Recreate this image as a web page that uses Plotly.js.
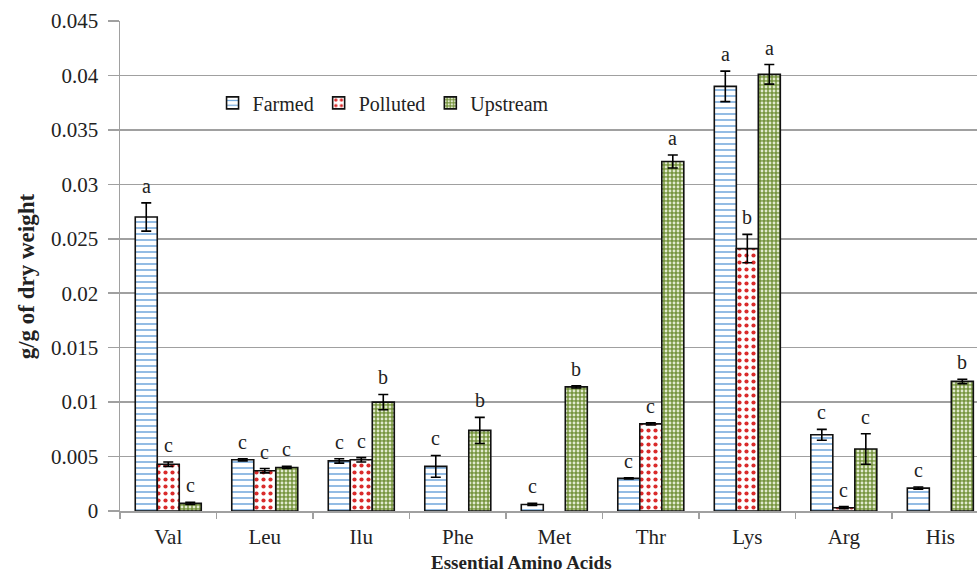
<!DOCTYPE html>
<html>
<head>
<meta charset="utf-8">
<script src="https://cdn.plot.ly/plotly-3.0.1.min.js"></script>
<style>
  html, body { margin: 0; padding: 0; background: #ffffff; }
  #chart { width: 977px; height: 575px; }
</style>
</head>
<body>
<div id="chart"></div>
<script>
// ---- data ----
const categories = ['Val', 'Leu', 'Ilu', 'Phe', 'Met', 'Thr', 'Lys', 'Arg', 'His'];

const farmed      = [0.0270, 0.0047, 0.0046, 0.0041, 0.0006, 0.0030, 0.0390, 0.0070, 0.0021];
const farmedErr   = [0.0013, 0.0001, 0.0002, 0.0010, 0.0001, 0.00005, 0.0014, 0.0005, 0.0001];
const polluted    = [0.0043, 0.0037, 0.0047, null, null, 0.0080, 0.0241, 0.0003, null];
const pollutedErr = [0.0002, 0.0002, 0.0002, null, null, 0.0001, 0.0013, 0.0001, null];
const upstream    = [0.0007, 0.0040, 0.0100, 0.0074, 0.0114, 0.0321, 0.0401, 0.0057, 0.0119];
const upstreamErr = [0.0001, 0.0001, 0.0007, 0.0012, 0.0001, 0.0006, 0.0009, 0.0014, 0.0002];

const farmedLetters   = ['a', 'c', 'c', 'c', 'c', 'c', 'a', 'c', 'c'];
const pollutedLetters = ['c', 'c', 'c', '', '', 'c', 'b', 'c', ''];
const upstreamLetters = ['c', 'c', 'b', 'b', 'b', 'a', 'a', 'c', 'b'];

const yTickVals  = [0, 0.005, 0.01, 0.015, 0.02, 0.025, 0.03, 0.035, 0.04, 0.045];
const yTickTexts = ['0', '0.005', '0.01', '0.015', '0.02', '0.025', '0.03', '0.035', '0.04', '0.045'];

const xTitle = 'Essential Amino Acids';
const yTitle = 'g/g of dry weight';

// ---- styling ----
const serif = 'Liberation Serif';
const txt = '#222222';
const errStyle = (arr) => ({ type: 'data', array: arr, visible: true, color: '#000', thickness: 1.6, width: 5 });
const outline = { color: '#111', width: 1.6 };

const series = [
  { name: 'Farmed', y: farmed, err: farmedErr, letters: farmedLetters,
    pattern: { shape: '-', fgcolor: '#6fa6dc', bgcolor: '#ffffff', size: 6, solidity: 0.25 } },
  { name: 'Polluted', y: polluted, err: pollutedErr, letters: pollutedLetters,
    pattern: { shape: '.', fgcolor: '#d92b2b', bgcolor: '#ffffff', size: 7, solidity: 0.28 } },
  { name: 'Upstream', y: upstream, err: upstreamErr, letters: upstreamLetters,
    pattern: { shape: '.', fgcolor: '#e2eacf', bgcolor: '#77953f', size: 4, solidity: 0.4 } }
];

const traces = series.map(s => ({
  type: 'bar',
  name: s.name,
  x: categories,
  y: s.y,
  error_y: errStyle(s.err),
  marker: { color: s.pattern.bgcolor, line: outline, pattern: s.pattern },
  hoverinfo: 'x+y+name'
}));

const barShift = [-22, 0, 22];
const annotations = [];
series.forEach((s, si) => {
  categories.forEach((c, ci) => {
    if (!s.letters[ci] || s.y[ci] == null) return;
    annotations.push({
      x: c, y: s.y[ci] + (s.err[ci] || 0), xref: 'x', yref: 'y',
      text: s.letters[ci], showarrow: false,
      xshift: barShift[si], yshift: 17, yanchor: 'middle',
      font: { family: serif, size: 20, color: txt }
    });
  });
});

// axis titles as annotations for exact placement
annotations.push({
  xref: 'paper', yref: 'paper', x: 0.469, y: -0.106, xanchor: 'center', yanchor: 'middle',
  text: '<b>' + xTitle + '</b>', showarrow: false,
  font: { family: serif, size: 19, color: txt }
});
annotations.push({
  xref: 'paper', yref: 'paper', x: -0.109, y: 0.478, xanchor: 'center', yanchor: 'middle',
  text: '<b>' + yTitle + '</b>', showarrow: false, textangle: -90,
  font: { family: serif, size: 23, color: txt }
});

const layout = {
  width: 977, height: 575,
  margin: { l: 120, r: 0, t: 21, b: 64 },
  paper_bgcolor: '#ffffff', plot_bgcolor: '#ffffff',
  barmode: 'group', bargap: 0.316, bargroupgap: 0,
  font: { family: serif, size: 20, color: txt },
  showlegend: true,
  legend: {
    orientation: 'h', x: 0.108, y: 0.833, xanchor: 'left', yanchor: 'middle',
    font: { family: serif, size: 20, color: txt },
    bgcolor: 'rgba(0,0,0,0)', itemwidth: 30, traceorder: 'normal'
  },
  xaxis: {
    type: 'category', range: [-0.5, 8.38],
    showgrid: false, showline: true, linecolor: '#a0a0a0', linewidth: 1.5,
    ticks: 'outside', tickson: 'boundaries', ticklen: 6, tickcolor: '#a0a0a0', tickwidth: 1.5,
    ticklabelstandoff: 6,
    tickfont: { family: serif, size: 21, color: txt },
    zeroline: false, fixedrange: true
  },
  yaxis: {
    range: [0, 0.045], tickvals: yTickVals, ticktext: yTickTexts,
    showgrid: true, gridcolor: '#a0a0a0', gridwidth: 1.5,
    showline: true, linecolor: '#a0a0a0', linewidth: 1.5,
    ticks: 'outside', ticklen: 11, tickcolor: '#a0a0a0', tickwidth: 1.5,
    ticklabelstandoff: 5,
    tickfont: { family: serif, size: 21, color: txt },
    zeroline: false, fixedrange: true
  },
  annotations: annotations
};

Plotly.newPlot('chart', traces, layout, { displayModeBar: false, staticPlot: true });
</script>
</body>
</html>
